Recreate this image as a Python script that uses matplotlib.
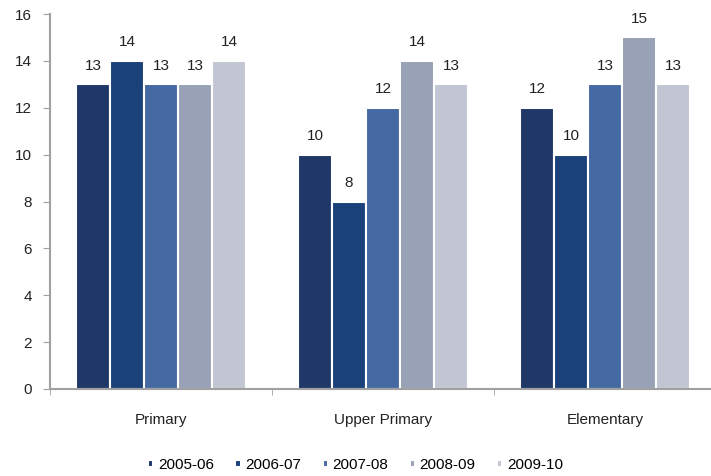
import matplotlib
matplotlib.use("Agg")
import matplotlib.pyplot as plt
import numpy as np

categories = ["Primary", "Upper Primary", "Elementary"]
years = ["2005-06", "2006-07", "2007-08", "2008-09", "2009-10"]
values = {
    "2005-06": [13, 10, 12],
    "2006-07": [14, 8, 10],
    "2007-08": [13, 12, 13],
    "2008-09": [13, 14, 15],
    "2009-10": [14, 13, 13],
}
colors = ["#1F3868", "#1A417A", "#4569A2", "#98A1B5", "#C2C6D2"]

plt.rcParams["font.family"] = ["Liberation Sans", "DejaVu Sans"]

fig = plt.figure(figsize=(7.11, 4.76), dpi=100)
ax = fig.add_axes([50 / 711, 87 / 476, 666 / 711, 375 / 476])

x = np.arange(len(categories))
bar_w = 0.153
for i, yr in enumerate(years):
    pos = x + (i - 2) * bar_w
    bars = ax.bar(pos, values[yr], width=bar_w, color=colors[i],
                  edgecolor="white", linewidth=1.5, label=yr)
    for b, v in zip(bars, values[yr]):
        ax.text(b.get_x() + b.get_width() / 2, v + 0.5, str(v),
                ha="center", va="bottom", fontsize=11, color="#222222")

ax.set_xlim(-0.5, 2.5)
ax.set_ylim(0, 16)
ax.set_yticks(range(0, 17, 2))
ax.set_xticks(x)
ax.set_xticklabels(categories, fontsize=11, color="#222222")
ax.set_xticks([-0.5, 0.5, 1.5, 2.5], minor=True)
ax.tick_params(axis="x", which="major", length=0, pad=17)
ax.tick_params(axis="x", which="minor", length=4, color="#A0A0A0")
ax.tick_params(axis="y", length=5, color="#A0A0A0", labelsize=11,
               labelcolor="#222222", pad=8)

for s in ["top", "right"]:
    ax.spines[s].set_visible(False)
for s in ["left", "bottom"]:
    ax.spines[s].set_color("#A0A0A0")
    ax.spines[s].set_linewidth(1.5)

fig.legend(loc="center", bbox_to_anchor=(0.5, 1 - 465 / 476), ncol=5,
           frameon=False, fontsize=11, handlelength=0.35, handleheight=0.35,
           handletextpad=0.3, columnspacing=1.4)

fig.savefig("out.png", dpi=100)
